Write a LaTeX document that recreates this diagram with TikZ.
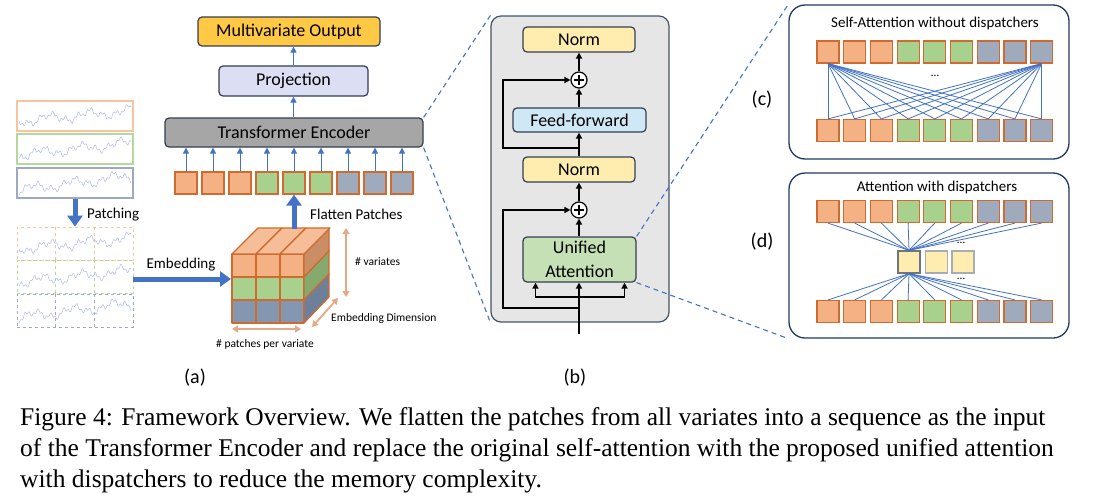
\documentclass[tikz,border=0pt]{standalone}
\usepackage{fontspec}
\setmainfont{Liberation Serif}
\setsansfont{Carlito}
\usepackage{tikz}
\usetikzlibrary{arrows.meta,calc,positioning}
\definecolor{tokorange}{HTML}{F4B183}
\definecolor{tokgreen}{HTML}{A9D18E}
\definecolor{tokgray}{HTML}{9FAABD}
\definecolor{tokedge}{HTML}{D06A2E}
\definecolor{flowblue}{HTML}{4472C4}
\definecolor{outgold}{HTML}{FFC845}
\definecolor{projlav}{HTML}{DCDFF3}
\definecolor{encgray}{HTML}{A6A6A6}
\definecolor{boxedge}{HTML}{333F50}
\definecolor{normyellow}{HTML}{FFEDB0}
\definecolor{ffblue}{HTML}{CFE8F6}
\definecolor{attgreen}{HTML}{C5E0B4}
\definecolor{panelgray}{HTML}{E6E6E6}
\definecolor{paneledge}{HTML}{44546A}
\definecolor{navyedge}{HTML}{203864}
\definecolor{seriesline}{HTML}{B0BAF0}
\definecolor{dimtan}{HTML}{E2AA86}
\definecolor{seriesorange}{HTML}{F8C4A0}
\definecolor{seriesgreen}{HTML}{B5D99C}
\definecolor{seriesgray}{HTML}{9EA8BF}
\definecolor{cubetopface}{HTML}{F6BE98}
\definecolor{sideorange}{HTML}{C98E66}
\definecolor{sidegreen}{HTML}{86A96E}
\definecolor{sidegray}{HTML}{6D7F99}
\definecolor{frontgray}{HTML}{8497B0}
\definecolor{dispedge}{HTML}{6E7480}
\tikzset{
  labelfont/.style={font=\sffamily\fontsize{18}{24}\selectfont},
  blockbox/.style={
    draw=boxedge,
    line width=1.2pt,
    rounded corners=4pt,
    align=center,
    labelfont,
    inner sep=0pt
  },
  normblock/.style={blockbox, fill=normyellow, minimum width=112pt, minimum height=25pt},
  tokenbox/.style={draw=tokedge, line width=1.2pt, minimum size=22pt, inner sep=0pt},
  dispbox/.style={draw=dispedge, line width=1.3pt, fill=normyellow, minimum size=22pt, inner sep=0pt},
  seriesbox/.style={line width=1.3pt, minimum width=116pt, minimum height=30pt, inner sep=0pt},
  patchrow/.style={dashed, line width=0.8pt, minimum width=116pt, minimum height=33pt, inner sep=0pt},
  tsline/.style={draw=seriesline, line width=0.5pt},
  cubeedge/.style={draw=tokedge, line width=1.2pt, line join=round},
  bigarrow/.style={draw=flowblue, line width=5pt, -{Triangle[length=11pt,width=15pt]}},
  thinarrow/.style={draw=flowblue, line width=0.9pt, -{Triangle[length=6pt,width=6pt]}},
  dimarrow/.style={draw=dimtan, line width=1.8pt,
    {Triangle[length=6pt,width=7pt]}-{Triangle[length=6pt,width=7pt]}},
  resarrow/.style={draw=black, line width=1.8pt, -{Triangle[length=6pt,width=6pt]}},
  linkline/.style={draw=flowblue, line width=0.8pt},
  zoomline/.style={draw=flowblue, line width=1.1pt, dash pattern=on 5pt off 4pt},
  attpanel/.style={draw=navyedge, line width=1.3pt, rounded corners=16pt, fill=white,
    minimum width=280pt, inner sep=0pt},
  plusnode/.style={circle, draw=black, fill=white, line width=1.2pt, minimum size=16pt, inner sep=0pt,
    path picture={
      \draw[line width=1.1pt] ([yshift=-5pt]path picture bounding box.center) -- ([yshift=5pt]path picture bounding box.center);
      \draw[line width=1.1pt] ([xshift=-5pt]path picture bounding box.center) -- ([xshift=5pt]path picture bounding box.center);
    }},
  smalltext/.style={font=\sffamily\fontsize{11.5}{13}\selectfont, inner sep=0pt},
  midtext/.style={font=\sffamily\fontsize{15}{17}\selectfont, inner sep=0pt},
  titletext/.style={font=\sffamily\fontsize{15}{17}\selectfont, inner sep=0pt},
  subfig/.style={font=\sffamily\fontsize{20}{22}\selectfont, inner sep=0pt},
  captext/.style={font=\fontsize{25.5}{31}\selectfont, anchor=base west, inner sep=0pt}
}
% one wiggly series across the width of a box
\newcommand{\tscurve}[3]{%
  \draw[tsline] plot[domain=0:112, samples=140]
    ({19+\x},{#1+#3*(0.5-\x/112)+3.5*sin(9*\x+#2)+2.5*sin(29*\x+3*#2)+1.6*sin(83*\x+#2)});}

\begin{document}
\begin{tikzpicture}[x=1pt,y=-1pt]
    \useasboundingbox (0,0) rectangle (1119,503);

    % (a) series and patches
    \node[seriesbox, draw=seriesorange] (serieso) at (75,116) {};
    \node[seriesbox, draw=seriesgreen] (seriesg) at (75,149) {};
    \node[seriesbox, draw=seriesgray] (seriesb) at (75,183) {};
    \tscurve{116}{0}{10}
    \tscurve{149}{70}{12}
    \tscurve{183}{140}{14}

    \node[patchrow, draw=seriesorange] (patcho) at (75,243.5) {};
    \node[patchrow, draw=seriesgreen] (patchg) at (75,276.5) {};
    \node[patchrow, draw=seriesgray] (patchb) at (75,310.5) {};
    \foreach \row/\col in {patcho/seriesorange, patchg/seriesgreen, patchb/seriesgray}
      \foreach \f in {0.3333,0.6667}
        \draw[dashed, line width=0.8pt, draw=\col]
          ($(\row.north west)!\f!(\row.north east)$) -- ($(\row.south west)!\f!(\row.south east)$);
    \tscurve{243.5}{0}{10}
    \tscurve{276.5}{70}{12}
    \tscurve{310.5}{140}{14}

    \draw[bigarrow] (seriesb.south) -- (patcho.north);
    \node[midtext, anchor=west] (patchlabel) at (87,215) {Patching};

    \coordinate (cubein) at (231,279);
    \draw[bigarrow] (patchg.east |- cubein) -- (cubein);
    \node[midtext] (embedlabel) at (181,265) {Embedding};

    % embedding cube
    \foreach \r/\fc/\sc in {0/tokorange/sideorange, 1/tokgreen/sidegreen, 2/frontgray/sidegray} {
      \foreach \c in {0,1,2}
        \draw[cubeedge, fill=\fc] (232+24*\c,254+23*\r) rectangle ++(24,23);
      \draw[cubeedge, fill=\sc] (304,254+23*\r) -- ++(25,-26) -- ++(0,23) -- ++(-25,26) -- cycle;
    }
    \foreach \c in {0,1,2}
      \draw[cubeedge, fill=cubetopface] (232+24*\c,254) -- ++(26,-26) -- ++(24,0) -- ++(-26,26) -- cycle;

    \coordinate (vartop) at (346,228);
    \coordinate (varbot) at (346,297);
    \draw[dimarrow] (vartop) -- (varbot);
    \node[smalltext, anchor=west] (varlabel) at (355,262) {\# variates};
    \coordinate (dimtop) at (338,298);
    \coordinate (dimbot) at (312,327);
    \draw[dimarrow] (dimtop) -- (dimbot);
    \node[smalltext, anchor=west] (dimlabel) at (331,318) {Embedding Dimension};
    \coordinate (patleft) at (232,329);
    \coordinate (patright) at (301,329);
    \draw[dimarrow] (patleft) -- (patright);
    \node[smalltext] (patlabel) at (265,344) {\# patches per variate};

    % tokens and encoder stack
    \foreach \k/\fc in {1/tokorange,2/tokorange,3/tokorange,4/tokgreen,5/tokgreen,6/tokgreen,7/tokgray,8/tokgray,9/tokgray}
      \node[tokenbox, fill=\fc] (toka\k) at ({186+27*(\k-1)},183) {};
    \node[blockbox, fill=encgray, minimum width=258pt, minimum height=29pt] (encoder) at (294,132.5) {Transformer Encoder};
    \node[blockbox, fill=projlav, minimum width=149pt, minimum height=30pt] (projection) at (293.5,81) {Projection};
    \node[blockbox, fill=outgold, minimum width=182pt, minimum height=29pt] (output) at (289,31.5) {Multivariate Output};
    \foreach \k in {1,...,9}
      \draw[thinarrow] (toka\k.north) -- (toka\k.north |- encoder.south);
    \draw[thinarrow] (projection.south |- encoder.north) -- (projection.south);
    \draw[thinarrow] (projection.north) -- (projection.north |- output.south);

    \coordinate (cubetopmid) at (294,229);
    \draw[bigarrow] (cubetopmid) -- (toka5.south);
    \node[midtext, anchor=west] (flatlabel) at (310,214) {Flatten Patches};

    \node[subfig] (suba) at (195,378) {(a)};

    % (b) encoder block
    \node[draw=paneledge, line width=1.2pt, fill=panelgray, rounded corners=10pt,
      minimum width=178pt, minimum height=306pt] (panelb) at (580,169) {};
    \node[normblock] (normtop) at (579,39.5) {Norm};
    \node[plusnode] (plusa) at (579,80) {};
    \node[blockbox, fill=ffblue, minimum width=133pt, minimum height=24pt] (feedfwd) at (579.5,120) {Feed-forward};
    \node[normblock] (normmid) at (579,169.5) {Norm};
    \node[plusnode] (plusb) at (579,210) {};
    \node[blockbox, fill=attgreen, minimum width=113pt, minimum height=45pt] (unified) at (579.5,259.5) {Unified\\Attention};

    \coordinate (blockin) at (579,334);
    \coordinate (splitpt) at (579,297);
    \coordinate (skipa) at (579,308);
    \coordinate (skipb) at (579,148);
    \draw[resarrow] (blockin) -- (unified.south -| blockin);
    \draw[resarrow] (splitpt) -| ($(unified.south)+(-44,0)$);
    \draw[resarrow] (splitpt) -| ($(unified.south)+(45,0)$);
    \draw[resarrow] (skipa) -- ++(-76,0) |- (plusb.west);
    \draw[resarrow] (skipb) -- ++(-76,0) |- (plusa.west);
    \draw[resarrow] (unified.north -| plusb) -- (plusb.south);
    \draw[resarrow] (plusb.north) -- (normmid.south);
    \draw[resarrow] (normmid.north) -- (normmid.north |- feedfwd.south);
    \draw[resarrow] (feedfwd.north -| plusa) -- (plusa.south);
    \draw[resarrow] (plusa.north) -- (normtop.south);

    \node[subfig] (subb) at (575,378) {(b)};

    % (c) and (d) attention panels
    \node[attpanel, minimum height=154pt] (panelc) at (929,82) {};
    \node[attpanel, minimum height=165pt] (paneld) at (929,255.5) {};
    \node[titletext] (titlec) at (935,24) {Self-Attention without dispatchers};
    \node[titletext] (titled) at (937,187) {Attention with dispatchers};

    \foreach \k/\fc in {1/tokorange,2/tokorange,3/tokorange,4/tokgreen,5/tokgreen,6/tokgreen,7/tokgray,8/tokgray,9/tokgray} {
      \node[tokenbox, fill=\fc] (ctop\k) at ({828+26.7*(\k-1)},52) {};
      \node[tokenbox, fill=\fc] (cbot\k) at ({828+26.7*(\k-1)},130.5) {};
      \node[tokenbox, fill=\fc] (dtop\k) at ({828+26.7*(\k-1)},211.5) {};
      \node[tokenbox, fill=\fc] (dbot\k) at ({828+26.7*(\k-1)},311.5) {};
    }
    \node[dispbox] (disp1) at (909,262) {};
    \node[dispbox, draw=dispedge!60] (disp2) at (936.5,262) {};
    \node[dispbox, draw=dispedge!60] (disp3) at (963,262) {};

    \foreach \k in {1,...,9} {
      \draw[linkline] (ctop1.south) -- (cbot\k.north);
      \draw[linkline] (ctop9.south) -- (cbot\k.north);
      \draw[linkline] (dtop\k.south) -- (disp1.north);
      \draw[linkline] (disp1.south) -- (dbot\k.north);
    }
    \node[smalltext] (dotsc) at (935,76) {\ldots};
    \node[smalltext] (dotsdup) at (961,243) {\ldots};
    \node[smalltext] (dotsddown) at (961,279) {\ldots};

    \node[subfig] (subc) at (762,100) {(c)};
    \node[subfig] (subd) at (762,242) {(d)};

    % zoom connectors
    \draw[zoomline] (encoder.north east) -- (panelb.north west);
    \draw[zoomline] (encoder.south east) -- (panelb.south west);
    \draw[zoomline] (unified.north east) -- (panelc.north west);
    \draw[zoomline] (unified.south east) -- (paneld.south west);

    % caption
    \node[captext] (capline1) at (20,425) {Figure 4: Framework Overview. We flatten the patches from all variates into a sequence as the input};
    \node[captext] (capline2) at (20,456) {of the Transformer Encoder and replace the original self-attention with the proposed unified attention};
    \node[captext] (capline3) at (20,487) {with dispatchers to reduce the memory complexity.};
\end{tikzpicture}
\end{document}
